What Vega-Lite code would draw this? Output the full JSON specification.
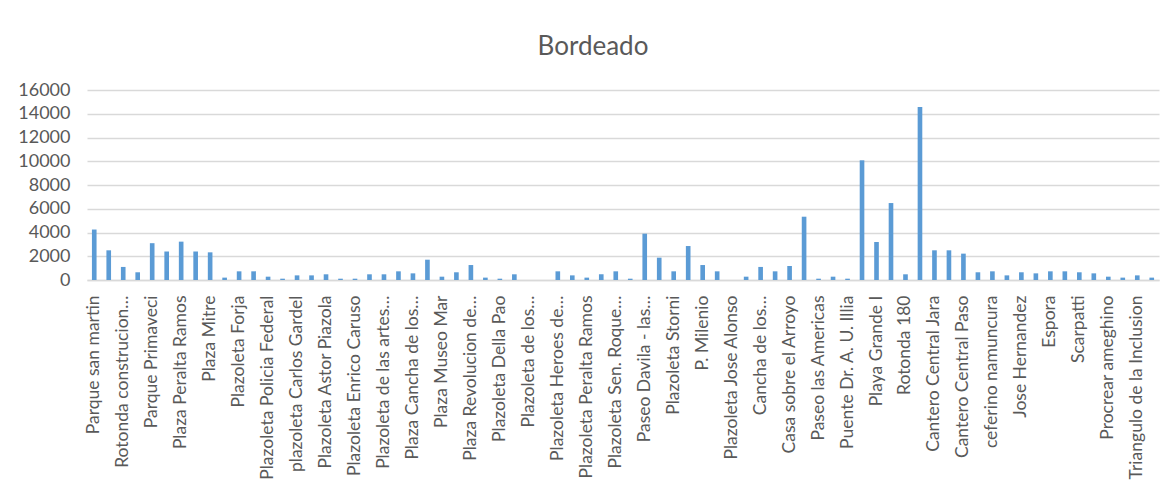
{
  "$schema": "https://vega.github.io/schema/vega-lite/v6.json",
  "width": 1072,
  "height": 190,
  "autosize": "none",
  "padding": {"left": 87, "top": 90, "right": 13, "bottom": 215},
  "background": "white",
  "title": {"text": "Bordeado", "font": "Lato", "fontSize": 26, "fontWeight": "normal", "color": "#595959", "offset": 21, "dx": -30},
  "data": {"values": [
    {"name": "Parque san martin", "v": 4250},
    {"name": "#2", "v": 2500},
    {"name": "Rotonda construcion…", "v": 1100},
    {"name": "#4", "v": 650},
    {"name": "Parque Primaveci", "v": 3100},
    {"name": "#6", "v": 2400},
    {"name": "Plaza Peralta Ramos", "v": 3230},
    {"name": "#8", "v": 2400},
    {"name": "Plaza Mitre", "v": 2330},
    {"name": "#10", "v": 200},
    {"name": "Plazoleta Forja", "v": 730},
    {"name": "#12", "v": 730},
    {"name": "Plazoleta Policia Federal", "v": 280},
    {"name": "#14", "v": 110},
    {"name": "plazoleta Carlos Gardel", "v": 390},
    {"name": "#16", "v": 390},
    {"name": "Plazoleta Astor Piazola", "v": 480},
    {"name": "#18", "v": 110},
    {"name": "Plazoleta Enrico Caruso", "v": 110},
    {"name": "#20", "v": 480},
    {"name": "Plazoleta de las artes…", "v": 480},
    {"name": "#22", "v": 730},
    {"name": "Plaza Cancha de los…", "v": 560},
    {"name": "#24", "v": 1710},
    {"name": "Plaza Museo Mar", "v": 280},
    {"name": "#26", "v": 650},
    {"name": "Plaza Revolucion de…", "v": 1260},
    {"name": "#28", "v": 200},
    {"name": "Plazoleta Della Pao", "v": 110},
    {"name": "#30", "v": 480},
    {"name": "Plazoleta de los…", "v": 0},
    {"name": "#32", "v": 0},
    {"name": "Plazoleta Heroes de…", "v": 730},
    {"name": "#34", "v": 390},
    {"name": "Plazoleta Peralta Ramos", "v": 200},
    {"name": "#36", "v": 480},
    {"name": "Plazoleta Sen. Roque…", "v": 730},
    {"name": "#38", "v": 110},
    {"name": "Paseo Davila - las…", "v": 3900},
    {"name": "#40", "v": 1880},
    {"name": "Plazoleta Storni", "v": 730},
    {"name": "#42", "v": 2860},
    {"name": "P. Milenio", "v": 1260},
    {"name": "#44", "v": 730},
    {"name": "Plazoleta Jose Alonso", "v": 0},
    {"name": "#46", "v": 280},
    {"name": "Cancha de los…", "v": 1100},
    {"name": "#48", "v": 730},
    {"name": "Casa sobre el Arroyo", "v": 1180},
    {"name": "#50", "v": 5330},
    {"name": "Paseo las Americas", "v": 110},
    {"name": "#52", "v": 280},
    {"name": "Puente Dr. A. U. Illia", "v": 110},
    {"name": "#54", "v": 10080},
    {"name": "Playa Grande I", "v": 3200},
    {"name": "#56", "v": 6480},
    {"name": "Rotonda 180", "v": 480},
    {"name": "#58", "v": 14570},
    {"name": "Cantero Central Jara", "v": 2500},
    {"name": "#60", "v": 2500},
    {"name": "Cantero Central Paso", "v": 2220},
    {"name": "#62", "v": 650},
    {"name": "ceferino namuncura", "v": 730},
    {"name": "#64", "v": 390},
    {"name": "Jose Hernandez", "v": 650},
    {"name": "#66", "v": 560},
    {"name": "Espora", "v": 730},
    {"name": "#68", "v": 730},
    {"name": "Scarpatti", "v": 650},
    {"name": "#70", "v": 560},
    {"name": "Procrear ameghino", "v": 280},
    {"name": "#72", "v": 200},
    {"name": "Triangulo de la Inclusion", "v": 390},
    {"name": "#74", "v": 200}
  ]},
  "mark": {"type": "bar", "color": "#5B9BD5"},
  "encoding": {
    "x": {
      "field": "name", "type": "nominal", "sort": null,
      "scale": {"paddingInner": 0.68, "paddingOuter": 0.34},
      "axis": {
        "title": null,
        "labelExpr": "indexof(datum.label, '#') == 0 ? '' : datum.label",
        "labelAngle": 270, "labelAlign": "right", "labelBaseline": "middle",
        "labelFont": "Lato", "labelFontSize": 17.5, "labelColor": "#595959",
        "labelPadding": 15, "labelLimit": 400, "labelOverlap": false,
        "ticks": false, "domainColor": "#d9d9d9", "domainWidth": 1.5, "grid": false
      }
    },
    "y": {
      "field": "v", "type": "quantitative",
      "scale": {"domain": [0, 16000], "nice": false},
      "axis": {
        "title": null, "values": [0, 2000, 4000, 6000, 8000, 10000, 12000, 14000, 16000],
        "format": "d", "domain": false, "ticks": false,
        "labelFont": "Lato", "labelFontSize": 18, "labelColor": "#595959", "labelPadding": 17,
        "gridColor": "#d9d9d9", "gridWidth": 1.5
      }
    }
  },
  "config": {"view": {"stroke": null}}
}
